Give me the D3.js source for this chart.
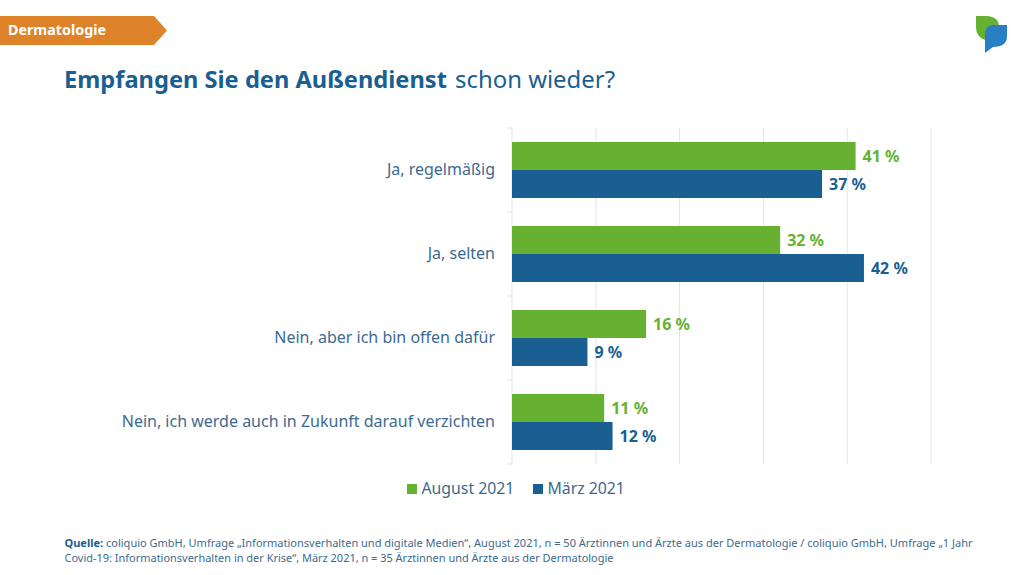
<!DOCTYPE html>
<html>
<head>
<meta charset="utf-8">
<script src="https://cdnjs.cloudflare.com/ajax/libs/d3/7.8.5/d3.min.js"></script>
<style>
  html, body { margin: 0; background: #fff; }
  text { font-family: "Noto Sans", sans-serif; }
</style>
</head>
<body>
<script>
let categories = ['Ja, regelmäßig', 'Ja, selten', 'Nein, aber ich bin offen dafür', 'Nein, ich werde auch in Zukunft darauf verzichten']
let august = [41, 32, 16, 11]
let maerz = [37, 42, 9, 12]
let seriesNames = ['August 2021', 'März 2021']
let ticks = [0, 10, 20, 30, 40, 50]

let green = '#66b032', blue = '#1a5f91', textBlue = '#3d6a8f'

let width = 1024, height = 575

let svg = d3.select('body').append('svg')
  .attr('width', width)
  .attr('height', height)
  .style('display', 'block')

// header
svg.append('path')
  .attr('d', 'M0,16H154L167,30.500L154,45H0Z')
  .attr('fill', '#df832b')
svg.append('text')
  .attr('x', 8).attr('y', 35)
  .attr('fill', '#fff').attr('font-size', 14).attr('font-weight', 700)
  .attr('textLength', 98).attr('lengthAdjust', 'spacingAndGlyphs')
  .text('Dermatologie')

svg.append('text')
  .attr('x', 64).attr('y', 88)
  .attr('fill', blue).attr('font-size', 24).attr('font-weight', 700)
  .attr('textLength', 383).attr('lengthAdjust', 'spacingAndGlyphs')
  .text('Empfangen Sie den Außendienst')
svg.append('text')
  .attr('x', 455).attr('y', 88)
  .attr('fill', blue).attr('font-size', 24)
  .attr('textLength', 160).attr('lengthAdjust', 'spacingAndGlyphs')
  .text('schon wieder?')

// logo
svg.append('path')
  .attr('d', 'M976,16H987Q1002,17 998,32L985,40Q976,37 976,27Z')
  .attr('fill', green)
svg.append('path')
  .attr('d', 'M992,25H1007V36Q1007,47 993,47L985,53V35Q985,26 992,25Z')
  .attr('fill', '#2a7fc4')

// chart
let scaleX = d3.scaleLinear().domain([0, 50]).range([512, 931])
let scaleY = d3.scaleBand().domain(categories).range([128, 464])
let scaleInner = d3.scaleBand().domain(seriesNames).range([14, 70])

svg.append('g')
  .selectAll('line')
  .data(ticks)
  .enter()
  .append('line')
  .attr('x1', d => scaleX(d)).attr('x2', d => scaleX(d))
  .attr('y1', 128).attr('y2', 464)
  .attr('stroke', '#d9e7f3').attr('stroke-width', 1)

let axisY = d3.axisLeft(scaleY).tickSize(0).tickPadding(17)
let axisG = svg.append('g').attr('transform', 'translate(512,0)').call(axisY)
axisG.select('.domain').remove()
axisG.selectAll('text')
  .attr('fill', textBlue).attr('font-size', 16)
  .style('font-family', '"Noto Sans", sans-serif')

// small category ticks between bands
svg.append('g')
  .selectAll('line')
  .data(d3.range(categories.length + 1))
  .enter()
  .append('line')
  .attr('x1', 507).attr('x2', 512)
  .attr('y1', d => 128 + d * scaleY.step()).attr('y2', d => 128 + d * scaleY.step())
  .attr('stroke', '#d9e7f3')

let seriesValues = [august, maerz]
let seriesColors = [green, blue]

seriesNames.forEach((name, s) => {
  let g = svg.append('g')
  g.selectAll('rect')
    .data(seriesValues[s])
    .enter()
    .append('rect')
    .attr('x', scaleX(0))
    .attr('y', (d, i) => scaleY(categories[i]) + scaleInner(name))
    .attr('width', d => scaleX(d) - scaleX(0))
    .attr('height', scaleInner.bandwidth())
    .attr('fill', seriesColors[s])
  g.selectAll('text')
    .data(seriesValues[s])
    .enter()
    .append('text')
    .attr('x', d => scaleX(d) + 7)
    .attr('y', (d, i) => scaleY(categories[i]) + scaleInner(name) + scaleInner.bandwidth() / 2 + 6)
    .attr('fill', seriesColors[s])
    .attr('font-size', 16).attr('font-weight', 700)
    .text(d => d + ' %')
})

// legend
let legendX = [407, 533]
seriesNames.forEach((name, s) => {
  svg.append('rect')
    .attr('x', legendX[s]).attr('y', 484)
    .attr('width', 10).attr('height', 10)
    .attr('fill', seriesColors[s])
  svg.append('text')
    .attr('x', legendX[s] + 14.500).attr('y', 494)
    .attr('fill', textBlue).attr('font-size', 15.800)
    .text(name)
})

// source
let source = svg.append('text')
  .attr('x', 64.500).attr('y', 547)
  .attr('fill', textBlue).attr('font-size', 11)
  .attr('textLength', 908).attr('lengthAdjust', 'spacingAndGlyphs')
source.append('tspan').attr('font-weight', 700).attr('fill', blue).text('Quelle:')
source.append('tspan').text(' coliquio GmbH, Umfrage „Informationsverhalten und digitale Medien“, August 2021, n = 50 Ärztinnen und Ärzte aus der Dermatologie / coliquio GmbH, Umfrage „1 Jahr')
svg.append('text')
  .attr('x', 64.500).attr('y', 562)
  .attr('fill', textBlue).attr('font-size', 11)
  .attr('textLength', 549).attr('lengthAdjust', 'spacingAndGlyphs')
  .text('Covid-19: Informationsverhalten in der Krise“, März 2021, n = 35 Ärztinnen und Ärzte aus der Dermatologie')
</script>
</body>
</html>
